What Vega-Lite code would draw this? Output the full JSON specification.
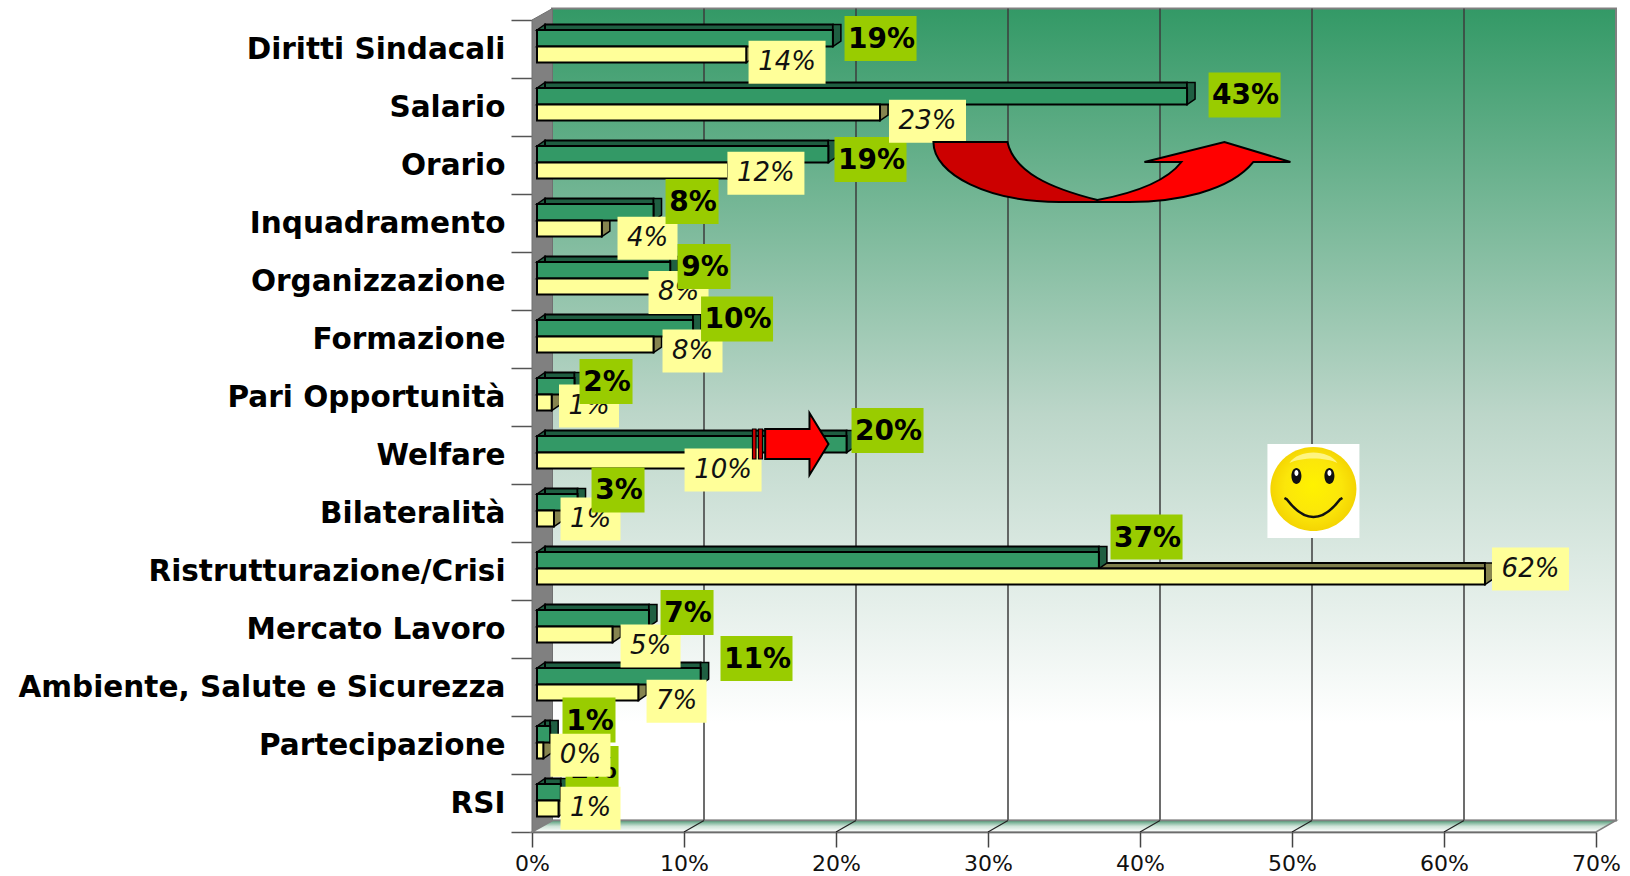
{
"$schema":"https://vega.github.io/schema/vega-lite/v6.json",
"width":1064,"height":812,
"autosize":{"type":"none"},
"padding":{"left":532,"top":20,"right":34,"bottom":44},
"background":"white",
"config":{"view":{"stroke":null},"font":"DejaVu Sans"},
"datasets":{
"uno":[{"n":1}],
"barre":[
{"categoria":"Diritti Sindacali","serie":"A","valore":19.5},{"categoria":"Diritti Sindacali","serie":"B","valore":13.8},
{"categoria":"Salario","serie":"A","valore":42.8},{"categoria":"Salario","serie":"B","valore":22.6},
{"categoria":"Orario","serie":"A","valore":19.2},{"categoria":"Orario","serie":"B","valore":12.6},
{"categoria":"Inquadramento","serie":"A","valore":7.7},{"categoria":"Inquadramento","serie":"B","valore":4.3},
{"categoria":"Organizzazione","serie":"A","valore":8.8},{"categoria":"Organizzazione","serie":"B","valore":8.0},
{"categoria":"Formazione","serie":"A","valore":10.3},{"categoria":"Formazione","serie":"B","valore":7.7},
{"categoria":"Pari Opportunità","serie":"A","valore":2.5},{"categoria":"Pari Opportunità","serie":"B","valore":1.0},
{"categoria":"Welfare","serie":"A","valore":20.4},{"categoria":"Welfare","serie":"B","valore":10.2},
{"categoria":"Bilateralità","serie":"A","valore":2.7},{"categoria":"Bilateralità","serie":"B","valore":1.15},
{"categoria":"Ristrutturazione/Crisi","serie":"A","valore":37.0},{"categoria":"Ristrutturazione/Crisi","serie":"B","valore":62.4},
{"categoria":"Mercato Lavoro","serie":"A","valore":7.4},{"categoria":"Mercato Lavoro","serie":"B","valore":5.0},
{"categoria":"Ambiente, Salute e Sicurezza","serie":"A","valore":10.8},{"categoria":"Ambiente, Salute e Sicurezza","serie":"B","valore":6.7},
{"categoria":"Partecipazione","serie":"A","valore":0.9},{"categoria":"Partecipazione","serie":"B","valore":0.45},
{"categoria":"RSI","serie":"A","valore":1.6},{"categoria":"RSI","serie":"B","valore":1.45}
],
"etichette":[
{"categoria":"Diritti Sindacali","serie":"A","label":"19%","x":22.93,"riga":0.319},
{"categoria":"Salario","serie":"A","label":"43%","x":46.88,"riga":1.293},
{"categoria":"Orario","serie":"A","label":"19%","x":22.27,"riga":2.405},
{"categoria":"Inquadramento","serie":"A","label":"8%","x":10.53,"riga":3.129},
{"categoria":"Organizzazione","serie":"A","label":"9%","x":11.32,"riga":4.25},
{"categoria":"Formazione","serie":"A","label":"10%","x":13.49,"riga":5.155},
{"categoria":"Pari Opportunità","serie":"A","label":"2%","x":4.87,"riga":6.233},
{"categoria":"Welfare","serie":"A","label":"20%","x":23.39,"riga":7.078},
{"categoria":"Bilateralità","serie":"A","label":"3%","x":5.66,"riga":8.103},
{"categoria":"Ristrutturazione/Crisi","serie":"A","label":"37%","x":40.43,"riga":8.914},
{"categoria":"Mercato Lavoro","serie":"A","label":"7%","x":10.2,"riga":10.216},
{"categoria":"Ambiente, Salute e Sicurezza","serie":"A","label":"11%","x":14.77,"riga":11.009},
{"categoria":"Partecipazione","serie":"A","label":"1%","x":3.75,"riga":12.069},
{"categoria":"RSI","serie":"A","label":"1%","x":3.95,"riga":12.905},
{"categoria":"Diritti Sindacali","serie":"B","label":"14%","x":16.78,"riga":0.729},
{"categoria":"Salario","serie":"B","label":"23%","x":26.02,"riga":1.747},
{"categoria":"Orario","serie":"B","label":"12%","x":15.39,"riga":2.643},
{"categoria":"Inquadramento","serie":"B","label":"4%","x":7.6,"riga":3.764},
{"categoria":"Organizzazione","serie":"B","label":"8%","x":9.64,"riga":4.698},
{"categoria":"Formazione","serie":"B","label":"8%","x":10.56,"riga":5.707},
{"categoria":"Pari Opportunità","serie":"B","label":"1%","x":3.75,"riga":6.655},
{"categoria":"Welfare","serie":"B","label":"10%","x":12.57,"riga":7.759},
{"categoria":"Bilateralità","serie":"B","label":"1%","x":3.85,"riga":8.603},
{"categoria":"Ristrutturazione/Crisi","serie":"B","label":"62%","x":65.69,"riga":9.466},
{"categoria":"Mercato Lavoro","serie":"B","label":"5%","x":7.8,"riga":10.793},
{"categoria":"Ambiente, Salute e Sicurezza","serie":"B","label":"7%","x":9.51,"riga":11.747},
{"categoria":"Partecipazione","serie":"B","label":"0%","x":3.19,"riga":12.678},
{"categoria":"RSI","serie":"B","label":"1%","x":3.85,"riga":13.591}
]
},
"encoding":{"x":{"type":"quantitative","scale":{"domain":[0,70],"nice":false,"zero":false},"axis":{"title":null,"values":[0,10,20,30,40,50,60,70],"labelExpr":"datum.value+'%'","grid":false,"domainColor":"#333333","domainWidth":1.5,"tickColor":"#444444","tickWidth":1.5,"tickSize":15,"labelPadding":6,"labelFont":"DejaVu Sans","labelFontSize":22,"labelColor":"#111111","labelFlush":false}}},
"resolve":{"scale":{"y":"independent"}},
"layer":[
{"encoding":{"y":{"type":"quantitative","scale":{"domain":[0,14],"reverse":true,"nice":false,"zero":false},"axis":null}},
"layer":[
{"data":{"name":"uno"},"mark":{"type":"rect","xOffset":20,"x2Offset":20,"yOffset":-11.5,"y2Offset":-11.5,"stroke":"#808080","strokeWidth":2,
"fill":{"gradient":"linear","x1":0,"y1":0,"x2":0,"y2":1,"stops":[{"offset":0,"color":"#339966"},{"offset":0.5,"color":"#bcd6c9"},{"offset":0.88,"color":"#ffffff"},{"offset":1,"color":"#ffffff"}]}},
"encoding":{"x":{"datum":0},"x2":{"datum":70},"y":{"datum":0},"y2":{"datum":14}}},
{"data":{"values":[{"v":10},{"v":20},{"v":30},{"v":40},{"v":50},{"v":60}]},
"mark":{"type":"rule","xOffset":20,"yOffset":-11.5,"y2Offset":-11.5,"color":"#3d3d3d","strokeWidth":1.5},
"encoding":{"x":{"field":"v"},"y":{"datum":0},"y2":{"datum":14}}},
{"data":{"name":"uno"},"mark":{"type":"point","shape":"M0 0 L20.5 -11.5 L20.5 800.5 L0 812 Z","size":4,"filled":true,"fill":"#808080","stroke":"#707070","strokeWidth":1,"opacity":1},
"encoding":{"x":{"datum":0},"y":{"datum":0}}},
{"data":{"name":"uno"},"mark":{"type":"point","shape":"M0 0 L20.5 -11.5 L1084 -11.5 L1064 0 Z","size":4,"filled":true,"stroke":"#808080","strokeWidth":1.5,"opacity":1,
"fill":{"gradient":"linear","x1":0,"y1":0,"x2":0,"y2":1,"stops":[{"offset":0,"color":"#4f9a76"},{"offset":0.5,"color":"#cfe3d8"},{"offset":1,"color":"#ffffff"}]}},
"encoding":{"x":{"datum":0},"y":{"datum":14}}},
{"data":{"values":[{"v":10},{"v":20},{"v":30},{"v":40},{"v":50},{"v":60}]},
"mark":{"type":"point","shape":"M0 0 L20 -11.5","size":4,"filled":false,"stroke":"#222222","strokeWidth":1.2,"opacity":1},
"encoding":{"x":{"field":"v"},"y":{"datum":14}}}
]},
{"data":{"name":"barre"},
"encoding":{"y":{"field":"categoria","type":"nominal","sort":null,
"scale":{"type":"band","domain":["Diritti Sindacali","Salario","Orario","Inquadramento","Organizzazione","Formazione","Pari Opportunità","Welfare","Bilateralità","Ristrutturazione/Crisi","Mercato Lavoro","Ambiente, Salute e Sicurezza","Partecipazione","RSI"],"paddingInner":0,"paddingOuter":0},
"axis":{"title":null,"domain":false,"tickBand":"extent","tickSize":21,"tickColor":"#555555","tickWidth":1.5,"labelPadding":6,"labelFont":"DejaVu Sans","labelFontWeight":"bold","labelFontSize":29.5,"labelColor":"#000000","labelLimit":520}}},
"layer":[
{"transform":[{"filter":"datum.serie=='B'"}],"mark":{"type":"point","shape":"M5 -2.5 L13 -8 L13 -2.5 Z","size":4,"filled":true,"fill":"#7f7f4c","stroke":"#000000","strokeWidth":1.5,"opacity":1},"encoding":{"x":{"datum":0}}},
{"transform":[{"filter":"datum.serie=='B'"}],"mark":{"type":"bar","height":5.5,"yOffset":-5.25,"xOffset":4.5,"x2Offset":13,"fill":"#7f7f4c","stroke":"#000000","strokeWidth":2},"encoding":{"x":{"field":"valore","stack":null},"x2":{"datum":0}}},
{"transform":[{"filter":"datum.serie=='B'"}],"mark":{"type":"point","shape":"M4.5 -2.5 L4.5 -8 L12.5 -8 L12.5 8 L4.5 13.5 Z","size":4,"filled":true,"fill":"#86844f","stroke":"#000000","strokeWidth":1.5,"opacity":1},"encoding":{"x":{"field":"valore"}}},
{"transform":[{"filter":"datum.serie=='A'"}],"mark":{"type":"point","shape":"M5 -19 L13 -24.5 L13 -19 Z","size":4,"filled":true,"fill":"#1f5f42","stroke":"#000000","strokeWidth":1.5,"opacity":1},"encoding":{"x":{"datum":0}}},
{"transform":[{"filter":"datum.serie=='A'"}],"mark":{"type":"bar","height":5.5,"yOffset":-21.75,"xOffset":4.5,"x2Offset":13,"fill":"#1f5f42","stroke":"#000000","strokeWidth":2},"encoding":{"x":{"field":"valore","stack":null},"x2":{"datum":0}}},
{"transform":[{"filter":"datum.serie=='A'"}],"mark":{"type":"point","shape":"M4.5 -19 L4.5 -24.5 L12.5 -24.5 L12.5 -8 L4.5 -2.5 Z","size":4,"filled":true,"fill":"#1f5f42","stroke":"#000000","strokeWidth":1.5,"opacity":1},"encoding":{"x":{"field":"valore"}}},
{"transform":[{"filter":"datum.serie=='A'"}],"mark":{"type":"bar","height":16.5,"yOffset":-10.75,"xOffset":4.5,"x2Offset":5,"fill":"#339966","stroke":"#000000","strokeWidth":2},"encoding":{"x":{"field":"valore","stack":null},"x2":{"datum":0}}},
{"transform":[{"filter":"datum.serie=='B'"}],"mark":{"type":"bar","height":16,"yOffset":5.5,"xOffset":4.5,"x2Offset":5,"fill":"#ffff99","stroke":"#000000","strokeWidth":2},"encoding":{"x":{"field":"valore","stack":null},"x2":{"datum":0}}}
]},
{"encoding":{"y":{"type":"quantitative","scale":{"domain":[0,14],"reverse":true,"nice":false,"zero":false},"axis":null}},
"layer":[
{"data":{"name":"etichette"},"transform":[{"filter":"datum.serie=='A' && indexof(['Orario','Partecipazione','RSI'],datum.categoria)>=0"}],
"mark":{"type":"point","size":4,"filled":true,"fill":"#99cc00","strokeWidth":0,"opacity":1},
"encoding":{"x":{"field":"x"},"y":{"field":"riga"},"shape":{"condition":{"test":"length(datum.label)>2","value":"M-36 -22.5 H36 V22.5 H-36 Z"},"value":"M-26.5 -22.5 H26.5 V22.5 H-26.5 Z"}}},
{"data":{"name":"etichette"},"transform":[{"filter":"datum.serie=='A' && indexof(['Orario','Partecipazione','RSI'],datum.categoria)>=0"}],
"mark":{"type":"text","align":"center","baseline":"middle","font":"DejaVu Sans","fontWeight":"bold","fontSize":28,"color":"#000000","dx":1,"dy":1.5},
"encoding":{"x":{"field":"x"},"y":{"field":"riga"},"text":{"field":"label"}}},
{"data":{"name":"etichette"},"transform":[{"filter":"datum.serie=='B'"}],
"mark":{"type":"point","size":4,"filled":true,"fill":"#ffff99","strokeWidth":0,"opacity":1},
"encoding":{"x":{"field":"x"},"y":{"field":"riga"},"shape":{"condition":{"test":"length(datum.label)>2","value":"M-38.5 -21.5 H38.5 V21.5 H-38.5 Z"},"value":"M-30 -21.5 H30 V21.5 H-30 Z"}}},
{"data":{"name":"etichette"},"transform":[{"filter":"datum.serie=='B'"}],
"mark":{"type":"text","align":"center","baseline":"middle","font":"DejaVu Sans","fontStyle":"italic","fontSize":26,"color":"#111111"},
"encoding":{"x":{"field":"x"},"y":{"field":"riga"},"text":{"field":"label"}}},
{"data":{"name":"etichette"},"transform":[{"filter":"datum.serie=='A' && indexof(['Orario','Partecipazione','RSI'],datum.categoria)<0"}],
"mark":{"type":"point","size":4,"filled":true,"fill":"#99cc00","strokeWidth":0,"opacity":1},
"encoding":{"x":{"field":"x"},"y":{"field":"riga"},"shape":{"condition":{"test":"length(datum.label)>2","value":"M-36 -22.5 H36 V22.5 H-36 Z"},"value":"M-26.5 -22.5 H26.5 V22.5 H-26.5 Z"}}},
{"data":{"name":"etichette"},"transform":[{"filter":"datum.serie=='A' && indexof(['Orario','Partecipazione','RSI'],datum.categoria)<0"}],
"mark":{"type":"text","align":"center","baseline":"middle","font":"DejaVu Sans","fontWeight":"bold","fontSize":28,"color":"#000000","dx":1,"dy":1.5},
"encoding":{"x":{"field":"x"},"y":{"field":"riga"},"text":{"field":"label"}}},
{"data":{"name":"uno"},"mark":{"type":"point","shape":"M-166 -28 L-92 -28 C-85 2 -50 18 -2 30 L-2 32 L-40 32 C-110 32 -166 5 -166 -28 Z","size":4,"filled":true,"fill":"#cc0000","stroke":"#000000","strokeWidth":2,"opacity":1},
"encoding":{"x":{"datum":37.33},"y":{"datum":2.586}}},
{"data":{"name":"uno"},"mark":{"type":"point","shape":"M-2 30 C30 24 65 14 82 -8 L45 -8 L125 -28 L191 -8 L154 -8 C130 22 75 32 30 32 L-2 32 Z","size":4,"filled":true,"fill":"#ff0000","stroke":"#000000","strokeWidth":2,"opacity":1},
"encoding":{"x":{"datum":37.33},"y":{"datum":2.586}}},
{"data":{"name":"uno"},"mark":{"type":"point","shape":"M-37 -15 H-33.5 V15 H-37 Z M-31 -15 H-27 V15 H-31 Z","size":4,"filled":true,"fill":"#cc0000","stroke":"#000000","strokeWidth":1.2,"opacity":1},
"encoding":{"x":{"datum":16.94},"y":{"datum":7.31}}},
{"data":{"name":"uno"},"mark":{"type":"point","shape":"M-24.3 -15 L20 -15 L20 -31 L39 0 L20 31 L20 15 L-24.3 15 Z","size":4,"filled":true,"fill":"#ff0000","stroke":"#000000","strokeWidth":2,"opacity":1},
"encoding":{"x":{"datum":16.94},"y":{"datum":7.31}}},
{"data":{"name":"uno"},"mark":{"type":"point","shape":"M-46 -43 H46 V51 H-46 Z","size":4,"filled":true,"fill":"#ffffff","strokeWidth":0,"opacity":1},
"encoding":{"x":{"datum":51.41},"y":{"datum":8.052}}},
{"data":{"name":"uno"},"mark":{"type":"point","shape":"M-43 2 A43 42 0 1 1 43 2 A43 42 0 1 1 -43 2 Z","size":4,"filled":true,"strokeWidth":0,"opacity":1,
"fill":{"gradient":"radial","x1":0.5,"y1":0.45,"x2":0.5,"y2":0.5,"r1":0,"r2":0.55,"stops":[{"offset":0,"color":"#fff200"},{"offset":0.6,"color":"#fbe60a"},{"offset":1,"color":"#f2cf00"}]}},
"encoding":{"x":{"datum":51.41},"y":{"datum":8.052}}},
{"data":{"name":"uno"},"mark":{"type":"point","shape":"M-24 -24 C-15 -38 15 -38 24 -24 C12 -30 -12 -30 -24 -24 Z","size":4,"filled":true,"fill":"#fff9a0","strokeWidth":0,"opacity":0.8},
"encoding":{"x":{"datum":51.41},"y":{"datum":8.052}}},
{"data":{"name":"uno"},"mark":{"type":"point","shape":"M-22 -11 A5 8 0 1 1 -12 -11 A5 8 0 1 1 -22 -11 Z M11 -11 A5 8 0 1 1 21 -11 A5 8 0 1 1 11 -11 Z","size":4,"filled":true,"fill":"#111111","strokeWidth":0,"opacity":1},
"encoding":{"x":{"datum":51.41},"y":{"datum":8.052}}},
{"data":{"name":"uno"},"mark":{"type":"point","shape":"M-19 -14 A2 3 0 1 1 -15 -14 A2 3 0 1 1 -19 -14 Z M14 -14 A2 3 0 1 1 18 -14 A2 3 0 1 1 14 -14 Z","size":4,"filled":true,"fill":"#ffffff","strokeWidth":0,"opacity":1},
"encoding":{"x":{"datum":51.41},"y":{"datum":8.052}}},
{"data":{"name":"uno"},"mark":{"type":"point","shape":"M-29 11 L-26.7 12.3 Q0 47.7 26.7 12.3 L29 11","size":4,"filled":false,"stroke":"#111111","strokeWidth":2.5,"opacity":1},
"encoding":{"x":{"datum":51.41},"y":{"datum":8.052}}}
]}
]
}
